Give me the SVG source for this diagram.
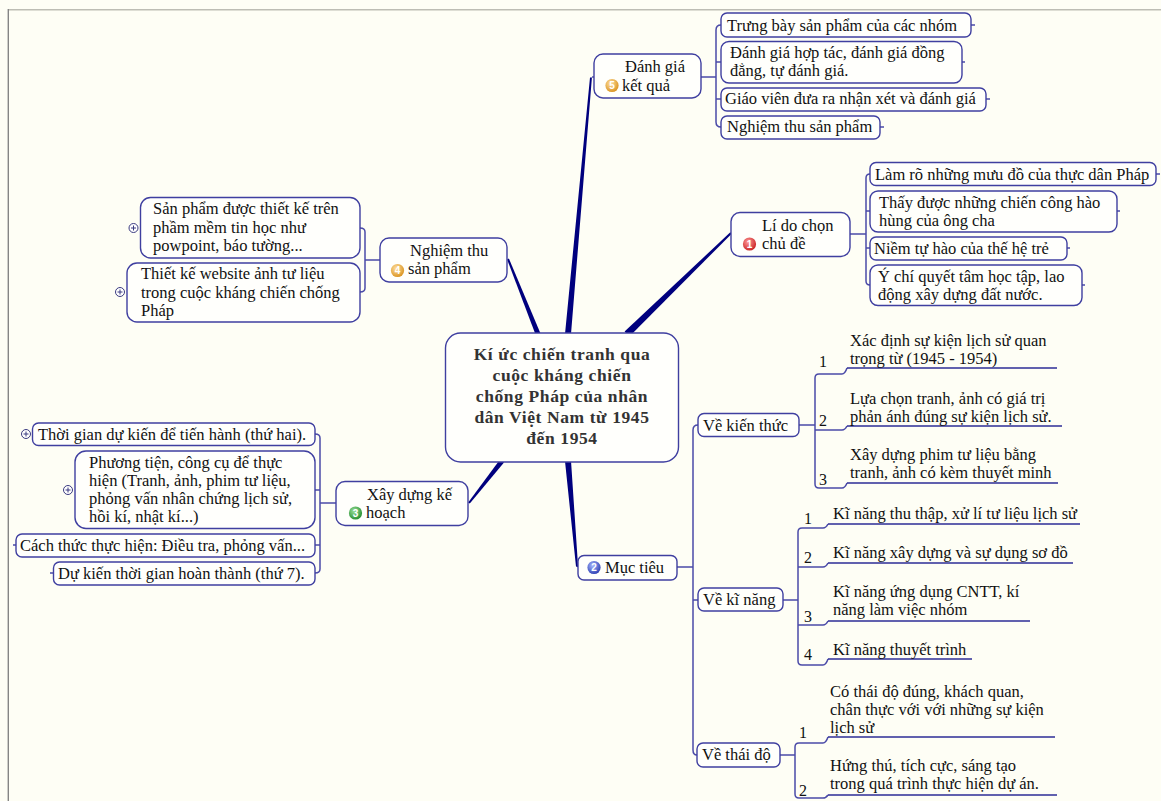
<svg xmlns="http://www.w3.org/2000/svg" width="1161" height="801" viewBox="0 0 1161 801">
<style>
.bg{fill:#FEFEF5}
.box{fill:#FFFFFC;stroke:#3F3FA0;stroke-width:1.4}
.t{font-family:"Liberation Serif","Times New Roman",serif;font-size:16.5px;fill:#111}
.n{font-family:"Liberation Serif","Times New Roman",serif;font-size:16px;fill:#111}
.title{font-family:"Liberation Serif","Times New Roman",serif;font-size:17.5px;font-weight:bold;fill:#333;letter-spacing:0.6px;text-anchor:middle}
.br{fill:none;stroke:#4B4BA8;stroke-width:1.5}
.ul{fill:none;stroke:#2E2E96;stroke-width:1.5}
.main{fill:#00007E}
.plus{fill:#fff;stroke:#3A3A80;stroke-width:1}
.pl{stroke:#3A3A80;stroke-width:1}
.badge{font-family:"Liberation Sans",Arial,sans-serif;font-size:10px;font-weight:bold;fill:#fff;text-anchor:middle}
</style>
<defs>
<radialGradient id="gRed" cx="0.4" cy="0.35" r="0.7"><stop offset="0" stop-color="#ff9a9a"/><stop offset="1" stop-color="#c81e1e"/></radialGradient>
<radialGradient id="gBlue" cx="0.4" cy="0.35" r="0.7"><stop offset="0" stop-color="#a8b8ff"/><stop offset="1" stop-color="#2a3cb0"/></radialGradient>
<radialGradient id="gGreen" cx="0.4" cy="0.35" r="0.7"><stop offset="0" stop-color="#9ce09c"/><stop offset="1" stop-color="#1f8a2a"/></radialGradient>
<radialGradient id="gOrange" cx="0.4" cy="0.35" r="0.7"><stop offset="0" stop-color="#ffe0a0"/><stop offset="1" stop-color="#d8901c"/></radialGradient>
</defs>
<rect class="bg" x="0" y="0" width="1161" height="801"/>
<line x1="8" y1="9.8" x2="1161" y2="9.8" stroke="#BDBDB4" stroke-width="1.6"/>
<line x1="8.3" y1="9" x2="8.3" y2="801" stroke="#858585" stroke-width="1.4"/>

<g id="connectors">
<path class="main" d="M571,334 L592,76.5 L594,76.5 L594,77.5 L590,77.5 L565,334 Z"/>
<path class="main" d="M629.4,336.5 L731.7,233.7 L730.3,232.3 L624.6,331.5 Z"/>
<path class="main" d="M540.3,333.1 L508.9,258.6 L507.1,259.4 L535.7,334.9 Z"/>
<path class="main" d="M500,459.5 L468.2,502.4 L469.8,503.6 L504,462.5 Z"/>
<path class="main" d="M565,461.3 L576,566.5 L578.5,567.5 L578,565.5 L571,460.7 Z"/>
<path class="br" d="M701,77 H716 M721,25 Q716,25 716,30 V122 Q716,127 721,127 M716,62 H721 M716,99 H721 M971,25 h4 M962,62 h3 M986,99 h4 M880,127 h4"/>
<path class="br" d="M850,234 H866 M870,174 Q866,174 866,178 V281 Q866,285 870,285 M866,211 H870 M866,248 H870 M1156,174 h4 M1117,211 h3 M1067,248 h3 M1082,285 h3"/>
<path class="br" d="M380,260 H365 M360,228 Q365,228 365,232 V288 Q365,292 360,292"/>
<path class="br" d="M336,503 H320 M315,434 Q320,434 320,438 V569 Q320,573 315,573 M320,490 H315 M320,545 H315 M16,545 h-3 M53,573 h-3"/>
<path class="br" d="M677,567 H693 M698,425 Q693,425 693,430 V750 Q693,755 697,755 M693,600 H698"/>
<path class="br" d="M799,425 H815 M815,378 Q815,374 819,374 H842 Q845,374 847,368 M815,378 V484 Q815,488 819,488 H842 Q845,488 847,483 M815,430 H842 Q845,430 847,426"/>
<path class="ul" d="M847,368 H1057 M847,483 H1058 M847,426 H1062"/>
<path class="br" d="M783,600 H798 M798,532 Q798,528 802,528 H823 Q826,528 828,524 M798,532 V661 Q798,665 802,665 H823 Q826,665 828,659 M798,567 H823 Q826,567 828,563 M798,625 H823 Q826,625 828,621"/>
<path class="ul" d="M828,524 H1080 M828,659 H972 M828,563 H1073 M828,621 H1030"/>
<path class="br" d="M780,755 H795 M795,747 Q795,743 799,743 H823 Q826,743 828,737 M795,747 V794 Q795,798 799,798 H823 Q826,798 828,795"/>
<path class="ul" d="M828,737 H1055 M828,795 H1057"/>
</g>

<g id="central">
<rect class="box" x="445.5" y="333" width="233" height="129" rx="15"/>
<text class="title" x="562" y="360">Kí ức chiến tranh qua</text>
<text class="title" x="562" y="381">cuộc kháng chiến</text>
<text class="title" x="562" y="402">chống Pháp của nhân</text>
<text class="title" x="562" y="423">dân Việt Nam từ 1945</text>
<text class="title" x="562" y="444">đến 1954</text>
</g>

<g id="danhgia">
<rect class="box" x="594" y="54" width="107" height="44" rx="9"/>
<text class="t" x="625" y="72">Đánh giá</text>
<circle cx="612" cy="85.5" r="6.6" fill="url(#gOrange)"/><text class="badge" x="612" y="89">5</text>
<text class="t" x="622" y="91">kết quả</text>
</g>
<g id="dg1"><rect class="box" x="721" y="13" width="250" height="24" rx="6"/><text class="t" x="727" y="30.5">Trưng bày sản phẩm của các nhóm</text></g>
<g id="dg2"><rect class="box" x="721" y="41.5" width="241" height="41.5" rx="8"/><text class="t" x="730" y="58">Đánh giá hợp tác, đánh giá đồng</text><text class="t" x="730" y="76">đẳng, tự đánh giá.</text></g>
<g id="dg3"><rect class="box" x="721" y="88" width="265" height="23" rx="6"/><text class="t" x="725" y="104">Giáo viên đưa ra nhận xét và đánh giá</text></g>
<g id="dg4"><rect class="box" x="721" y="116" width="159" height="23" rx="6"/><text class="t" x="727" y="132">Nghiệm thu sản phẩm</text></g>

<g id="lido">
<rect class="box" x="731" y="212.5" width="119" height="44" rx="9"/>
<text class="t" x="762" y="230.5">Lí do chọn</text>
<circle cx="749.5" cy="244" r="6.6" fill="url(#gRed)"/><text class="badge" x="749.5" y="247.5">1</text>
<text class="t" x="762" y="248.5">chủ đề</text>
</g>
<g id="ld1"><rect class="box" x="870" y="162.5" width="286" height="23" rx="6"/><text class="t" x="875" y="179.5">Làm rõ những mưu đồ của thực dân Pháp</text></g>
<g id="ld2"><rect class="box" x="870" y="191" width="247" height="41" rx="8"/><text class="t" x="879" y="207.5">Thấy được những chiến công hào</text><text class="t" x="879" y="225.5">hùng của ông cha</text></g>
<g id="ld3"><rect class="box" x="870" y="237" width="197" height="23" rx="6"/><text class="t" x="874" y="253.5">Niềm tự hào của thế hệ trẻ</text></g>
<g id="ld4"><rect class="box" x="870" y="265" width="212" height="40.5" rx="8"/><text class="t" x="878" y="282">Ý chí quyết tâm học tập, lao</text><text class="t" x="878" y="300">động xây dựng đất nước.</text></g>

<g id="nghiemthu">
<rect class="box" x="380" y="238" width="127" height="44" rx="9"/>
<text class="t" x="410" y="256">Nghiệm thu</text>
<circle cx="397.5" cy="270.5" r="6.6" fill="url(#gOrange)"/><text class="badge" x="397.5" y="274">4</text>
<text class="t" x="408" y="274">sản phẩm</text>
</g>
<g id="nt1"><rect class="box" x="140.5" y="197.5" width="219.5" height="60.5" rx="10"/><text class="t" x="153" y="214">Sản phẩm được thiết kế trên</text><text class="t" x="153" y="232.5">phầm mềm tin học như</text><text class="t" x="153" y="251">powpoint, báo tường...</text>
<circle class="plus" cx="133.5" cy="228" r="4.5"/><path class="pl" d="M131,228 h5 M133.5,225.5 v5"/></g>
<g id="nt2"><rect class="box" x="127" y="263" width="233" height="59" rx="10"/><text class="t" x="141" y="279">Thiết kế website ảnh tư liệu</text><text class="t" x="141" y="297.5">trong cuộc kháng chiến chống</text><text class="t" x="141" y="316">Pháp</text>
<circle class="plus" cx="120" cy="292" r="4.5"/><path class="pl" d="M117.5,292 h5 M120,289.5 v5"/></g>

<g id="xaydung">
<rect class="box" x="336" y="481.5" width="132" height="44" rx="9"/>
<text class="t" x="367" y="499.5">Xây dựng kế</text>
<circle cx="355.5" cy="513" r="6.6" fill="url(#gGreen)"/><text class="badge" x="355.5" y="516.5">3</text>
<text class="t" x="366" y="518">hoạch</text>
</g>
<g id="xd1"><rect class="box" x="32.5" y="423" width="282.5" height="22.5" rx="6"/><text class="t" x="38" y="439.5">Thời gian dự kiến để tiến hành (thứ hai).</text>
<circle class="plus" cx="26" cy="434" r="4.5"/><path class="pl" d="M23.5,434 h5 M26,431.5 v5"/></g>
<g id="xd2"><rect class="box" x="75" y="451" width="240" height="77.5" rx="11"/><text class="t" x="89" y="467.5">Phương tiện, công cụ để thực</text><text class="t" x="89" y="485.5">hiện (Tranh, ảnh, phim tư liệu,</text><text class="t" x="89" y="503.5">phỏng vấn nhân chứng lịch sử,</text><text class="t" x="89" y="521.5">hồi kí, nhật kí...)</text>
<circle class="plus" cx="68" cy="490" r="4.5"/><path class="pl" d="M65.5,490 h5 M68,487.5 v5"/></g>
<g id="xd3"><rect class="box" x="16" y="534" width="299" height="23" rx="6"/><text class="t" x="20" y="550.5">Cách thức thực hiện: Điều tra, phỏng vấn...</text></g>
<g id="xd4"><rect class="box" x="53.5" y="562" width="261.5" height="23" rx="6"/><text class="t" x="58" y="578.5">Dự kiến thời gian hoàn thành (thứ 7).</text></g>

<g id="muctieu">
<rect class="box" x="578" y="555.5" width="99" height="24.5" rx="6"/>
<circle cx="594" cy="567.5" r="6.6" fill="url(#gBlue)"/><text class="badge" x="594" y="571">2</text>
<text class="t" x="605" y="573">Mục tiêu</text>
</g>
<g id="kienthuc"><rect class="box" x="698" y="413.5" width="101" height="23" rx="6"/><text class="t" x="703" y="430.5">Về kiến thức</text></g>
<g id="kinang"><rect class="box" x="698" y="588" width="85" height="23" rx="6"/><text class="t" x="703" y="605">Về kĩ năng</text></g>
<g id="thaido"><rect class="box" x="697" y="743" width="83" height="24" rx="6"/><text class="t" x="702" y="760">Về thái độ</text></g>

<g id="kt1"><text class="n" x="819" y="367">1</text><text class="t" x="850" y="345.5">Xác định sự kiện lịch sử quan</text><text class="t" x="850" y="363.5">trọng từ (1945 - 1954)</text></g>
<g id="kt2"><text class="n" x="819" y="426">2</text><text class="t" x="850" y="403.5">Lựa chọn tranh, ảnh có giá trị</text><text class="t" x="850" y="421.5">phản ánh đúng sự kiện lịch sử.</text></g>
<g id="kt3"><text class="n" x="819" y="485">3</text><text class="t" x="850" y="460">Xây dựng phim tư liệu bằng</text><text class="t" x="850" y="478">tranh, ảnh có kèm thuyết minh</text></g>

<g id="kn1"><text class="n" x="804" y="524">1</text><text class="t" x="833" y="518.5">Kĩ năng thu thập, xử lí tư liệu lịch sử</text></g>
<g id="kn2"><text class="n" x="804" y="563">2</text><text class="t" x="833" y="558">Kĩ năng xây dựng và sự dụng sơ đồ</text></g>
<g id="kn3"><text class="n" x="804" y="622">3</text><text class="t" x="833" y="597">Kĩ năng ứng dụng CNTT, kí</text><text class="t" x="833" y="615">năng làm việc nhóm</text></g>
<g id="kn4"><text class="n" x="804" y="660">4</text><text class="t" x="833" y="655">Kĩ năng thuyết trình</text></g>

<g id="td1"><text class="n" x="799" y="738">1</text><text class="t" x="830" y="697">Có thái độ đúng, khách quan,</text><text class="t" x="830" y="715">chân thực với với những sự kiện</text><text class="t" x="830" y="733">lịch sử</text></g>
<g id="td2"><text class="n" x="799" y="796">2</text><text class="t" x="830" y="770.5">Hứng thú, tích cực, sáng tạo</text><text class="t" x="830" y="788.5">trong quá trình thực hiện dự án.</text></g>
</svg>
